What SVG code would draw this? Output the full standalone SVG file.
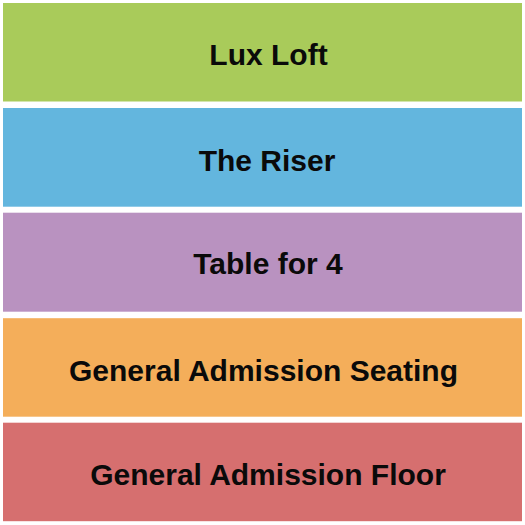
<svg xmlns="http://www.w3.org/2000/svg" width="525" height="525" viewBox="0 0 525 525">
<style>
.sec{stroke:none}
.lbl{font-family:"Liberation Sans",Arial,sans-serif;font-weight:bold;font-size:30px;fill:#0a0a0a;text-anchor:middle}
</style>
<rect width="525" height="525" fill="#ffffff"/>
<g id="lux-loft"><rect class="sec" x="3" y="3" width="519" height="98.5" fill="#a9cb5a"/><text class="lbl" x="268.5" y="64.5">Lux Loft</text></g>
<g id="the-riser"><rect class="sec" x="3" y="108" width="519" height="98.7" fill="#63b6de"/><text class="lbl" x="267" y="170.5">The Riser</text></g>
<g id="table-for-4"><rect class="sec" x="3" y="212.7" width="519" height="99" fill="#b992c0"/><text class="lbl" x="268" y="273.5">Table for 4</text></g>
<g id="ga-seating"><rect class="sec" x="3" y="318.2" width="519" height="98.5" fill="#f4ae5a"/><text class="lbl" x="263.5" y="381">General Admission Seating</text></g>
<g id="ga-floor"><rect class="sec" x="3" y="422.7" width="519" height="98.5" fill="#d66f6f"/><text class="lbl" x="268" y="484.5">General Admission Floor</text></g>
<g id="connectors"></g>
</svg>
